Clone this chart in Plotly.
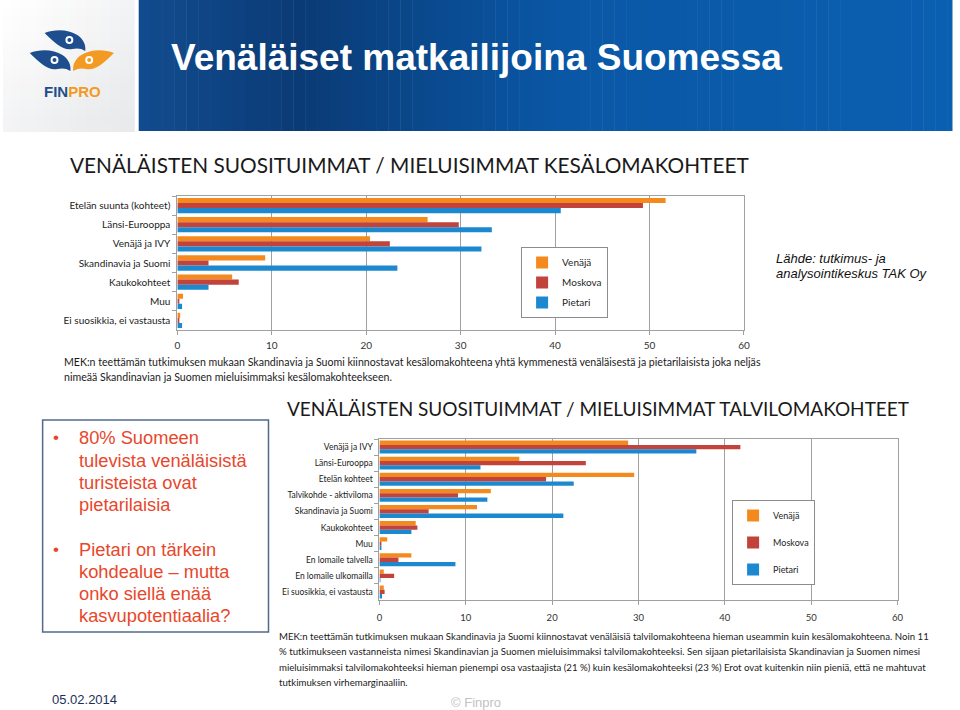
import plotly.graph_objects as go

W, H = 960, 710


def fx(x):
    return x / W


def fy(y):
    return 1 - y / H


# ---------------- data ----------------
SERIES = ["Venäjä", "Moskova", "Pietari"]
COLORS = ["#f48a1e", "#c1433b", "#1b88d0"]

summer_cats = ["Etelän suunta (kohteet)", "Länsi-Eurooppa", "Venäjä ja IVY",
               "Skandinavia ja Suomi", "Kaukokohteet", "Muu",
               "Ei suosikkia, ei vastausta"]
summer_venaja = [51.7, 26.5, 20.4, 9.3, 5.8, 0.6, 0.3]
summer_moskova = [49.3, 29.8, 22.5, 3.3, 6.5, 0.2, 0.2]
summer_pietari = [40.6, 33.3, 32.2, 23.3, 3.3, 0.5, 0.5]

winter_cats = ["Venäjä ja IVY", "Länsi-Eurooppa", "Etelän kohteet",
               "Talvikohde - aktiviloma", "Skandinavia ja Suomi", "Kaukokohteet",
               "Muu", "En lomaile talvella", "En lomaile ulkomailla",
               "Ei suosikkia, ei vastausta"]
winter_venaja = [28.8, 16.2, 29.5, 12.9, 11.3, 4.2, 0.9, 3.7, 0.5, 0.5]
winter_moskova = [41.8, 23.9, 19.3, 9.1, 5.7, 4.4, 0.15, 2.2, 1.7, 0.6]
winter_pietari = [36.7, 11.7, 22.5, 12.5, 21.3, 3.7, 0.2, 8.8, 0.1, 0.3]

x_ticks = [0, 10, 20, 30, 40, 50, 60]

CHART_FONT = "Lato"
SLIDE_FONT = "Liberation Sans"

fig = go.Figure()

for name, col, vals in zip(SERIES, COLORS, [summer_venaja, summer_moskova, summer_pietari]):
    fig.add_trace(go.Bar(y=summer_cats, x=vals, orientation="h", name=name,
                         marker=dict(color=col, line=dict(width=0)),
                         xaxis="x", yaxis="y", legend="legend",
                         legendgroup="s" + name, hoverinfo="skip"))

for name, col, vals in zip(SERIES, COLORS, [winter_venaja, winter_moskova, winter_pietari]):
    fig.add_trace(go.Bar(y=winter_cats, x=vals, orientation="h", name=name,
                         marker=dict(color=col, line=dict(width=0)),
                         xaxis="x2", yaxis="y2", legend="legend2",
                         legendgroup="w" + name, hoverinfo="skip"))

GRID = "#a0a0a0"


def xaxis_style(domain, anchor, fsize, standoff):
    return dict(domain=domain, anchor=anchor, range=[0, 60], tickvals=x_ticks,
                showgrid=True, gridcolor=GRID, gridwidth=1, zeroline=False,
                showline=True, linecolor=GRID, linewidth=1, mirror=True,
                ticks="outside", ticklen=4, tickcolor=GRID,
                tickfont=dict(family=CHART_FONT, size=fsize, color="#333333"),
                ticklabelstandoff=standoff, fixedrange=True)


def yaxis_style(domain, anchor, fsize, standoff):
    return dict(domain=domain, anchor=anchor, type="category", autorange="reversed",
                showgrid=False, showline=True, linecolor=GRID, linewidth=1, mirror=True,
                ticks="outside", tickson="boundaries", ticklen=4, tickcolor=GRID,
                tickfont=dict(family=CHART_FONT, size=fsize, color="#1a1a1a"),
                ticklabelstandoff=standoff, fixedrange=True)


shapes = []
annotations = []

# ---- logo box gradient ----
shapes.append(dict(type="rect", xref="paper", yref="paper", x0=fx(0), x1=fx(133),
                   y0=fy(132), y1=fy(0), fillcolor="#ffffff", line=dict(width=0), layer="below"))
N = 16
for i in range(N):
    shapes.append(dict(type="rect", xref="paper", yref="paper",
                       x0=fx(133 * i / N), x1=fx(133 * (i + 1) / N), y0=fy(132), y1=fy(0),
                       fillcolor="#8a9099", opacity=0.11 * i / N, line=dict(width=0), layer="below"))
    shapes.append(dict(type="rect", xref="paper", yref="paper",
                       x0=fx(0), x1=fx(133), y0=fy(132 * (i + 1) / N), y1=fy(132 * i / N),
                       fillcolor="#8a9099", opacity=0.11 * i / N, line=dict(width=0), layer="below"))


def bird_path(tx, ty, mirror=False):
    pts = [("M", [(0, 3)]),
           ("C", [(10, -1), (24, -1), (33, 5)]),
           ("C", [(39, 9), (42, 15), (41, 21)]),
           ("C", [(37, 18), (32, 18), (28, 19)]),
           ("C", [(19, 21), (10, 13), (0, 3)])]
    s = ""
    for cmd, plist in pts:
        s += cmd
        coords = []
        for (rx, ry) in plist:
            X = tx - rx if mirror else tx + rx
            Y = ty + ry
            coords.append(f"{fx(X):.5f},{fy(Y):.5f}")
        s += " ".join(coords) + " "
    return s + "Z"


NAVY = "#1f4e8f"
ORANGE = "#f39a22"
for (tx, ty, mir, col) in [(42, 30, False, NAVY), (27, 50, False, NAVY), (112, 50, True, ORANGE)]:
    shapes.append(dict(type="path", xref="paper", yref="paper", path=bird_path(tx, ty, mir),
                       fillcolor=col, line=dict(width=0)))
    ex = tx - 25 if mir else tx + 25
    ey = ty + 10
    shapes.append(dict(type="circle", xref="paper", yref="paper",
                       x0=fx(ex - 4), x1=fx(ex + 4), y0=fy(ey + 4), y1=fy(ey - 4),
                       fillcolor="#ffffff", line=dict(width=0)))
    shapes.append(dict(type="circle", xref="paper", yref="paper",
                       x0=fx(ex - 2), x1=fx(ex + 2), y0=fy(ey + 2), y1=fy(ey - 2),
                       fillcolor=col, line=dict(width=0)))

annotations.append(dict(xref="paper", yref="paper", x=fx(70), y=fy(91), xanchor="center",
                        yanchor="middle", showarrow=False,
                        text=f"<b><span style='color:{NAVY}'>FIN</span><span style='color:{ORANGE}'>PRO</span></b>",
                        font=dict(family=SLIDE_FONT, size=15)))

# ---- title bar gradient ----
stops = [(137, (0x12, 0x4c, 0x8e)), (300, (0x0a, 0x3b, 0x76)), (560, (0x0a, 0x57, 0xa5)),
         (958, (0x0b, 0x5f, 0xb0))]


def bar_color(x):
    for (xa, ca), (xb, cb) in zip(stops[:-1], stops[1:]):
        if xa <= x <= xb:
            t = (x - xa) / (xb - xa)
            c = [round(a + (b - a) * t) for a, b in zip(ca, cb)]
            return "#%02x%02x%02x" % tuple(c)
    return "#%02x%02x%02x" % stops[-1][1]


step = 12
x = 137
while x < 958:
    x2 = min(x + step, 958)
    shapes.append(dict(type="rect", xref="paper", yref="paper", x0=fx(x), x1=fx(x2) + 0.0005,
                       y0=fy(131), y1=fy(0), fillcolor=bar_color((x + x2) / 2),
                       line=dict(width=0), layer="below"))
    x = x2

annotations.append(dict(xref="paper", yref="paper", x=fx(168), y=fy(57), xanchor="left",
                        yanchor="middle", showarrow=False,
                        text="<b>Venäläiset matkailijoina Suomessa</b>",
                        font=dict(family=SLIDE_FONT, size=37, color="#ffffff")))

# ---- chart titles ----
annotations.append(dict(xref="paper", yref="paper", x=fx(66), y=fy(164), xanchor="left",
                        yanchor="middle", showarrow=False,
                        text="VENÄLÄISTEN SUOSITUIMMAT / MIELUISIMMAT KESÄLOMAKOHTEET",
                        font=dict(family=CHART_FONT, size=20.8, color="#1a1a1a")))
annotations.append(dict(xref="paper", yref="paper", x=fx(285), y=fy(408), xanchor="left",
                        yanchor="middle", showarrow=False,
                        text="VENÄLÄISTEN SUOSITUIMMAT / MIELUISIMMAT TALVILOMAKOHTEET",
                        font=dict(family=CHART_FONT, size=19, color="#1a1a1a")))

# ---- chart notes ----
top_note = ["MEK:n teettämän tutkimuksen mukaan Skandinavia ja Suomi kiinnostavat kesälomakohteena yhtä kymmenestä venäläisestä ja pietarilaisista joka neljäs",
            "nimeää Skandinavian ja Suomen mieluisimmaksi kesälomakohteekseen."]
for i, line in enumerate(top_note):
    annotations.append(dict(xref="paper", yref="paper", x=fx(60), y=fy(362 + 15 * i),
                            xanchor="left", yanchor="middle", showarrow=False, text=line,
                            font=dict(family=CHART_FONT, size=10.6, color="#1a1a1a")))

bot_note = ["MEK:n teettämän tutkimuksen mukaan Skandinavia ja Suomi kiinnostavat venäläisiä talvilomakohteena hieman useammin kuin kesälomakohteena. Noin 11",
            "% tutkimukseen vastanneista nimesi Skandinavian ja Suomen mieluisimmaksi talvilomakohteeksi. Sen sijaan pietarilaisista Skandinavian ja Suomen nimesi",
            "mieluisimmaksi talvilomakohteeksi hieman pienempi osa vastaajista (21 %) kuin kesälomakohteeksi (23 %) Erot ovat kuitenkin niin pieniä, että ne mahtuvat",
            "tutkimuksen virhemarginaaliin."]
for i, line in enumerate(bot_note):
    annotations.append(dict(xref="paper", yref="paper", x=fx(277), y=fy(636 + 15.4 * i),
                            xanchor="left", yanchor="middle", showarrow=False, text=line,
                            font=dict(family=CHART_FONT, size=9.65, color="#1a1a1a")))

# ---- bullet text box ----
shapes.append(dict(type="rect", xref="paper", yref="paper", x0=fx(40), x1=fx(268),
                   y0=fy(632), y1=fy(420), line=dict(color="#52698c", width=1.5),
                   fillcolor="rgba(0,0,0,0)"))
RED = "#e8472b"
bullets = [["80% Suomeen", "tulevista venäläisistä", "turisteista ovat", "pietarilaisia"],
           ["Pietari on tärkein", "kohdealue – mutta", "onko siellä enää", "kasvupotentiaalia?"]]
for b, (lines, y0) in enumerate(zip(bullets, [438, 549])):
    annotations.append(dict(xref="paper", yref="paper", x=fx(48), y=fy(y0), xanchor="left",
                            yanchor="middle", showarrow=False, text="•",
                            font=dict(family=SLIDE_FONT, size=17, color=RED)))
    for i, line in enumerate(lines):
        annotations.append(dict(xref="paper", yref="paper", x=fx(75), y=fy(y0 + 22 * i),
                                xanchor="left", yanchor="middle", showarrow=False, text=line,
                                font=dict(family=SLIDE_FONT, size=18.3, color=RED)))

# ---- source ----
for i, line in enumerate(["Lähde: tutkimus- ja", "analysointikeskus TAK Oy"]):
    annotations.append(dict(xref="paper", yref="paper", x=fx(778), y=fy(258 + 16 * i),
                            xanchor="left", yanchor="middle", showarrow=False,
                            text=f"<i>{line}</i>",
                            font=dict(family=SLIDE_FONT, size=13, color="#111111")))

# ---- footer ----
annotations.append(dict(xref="paper", yref="paper", x=fx(47), y=fy(699), xanchor="left",
                        yanchor="middle", showarrow=False, text="05.02.2014",
                        font=dict(family=SLIDE_FONT, size=13, color="#1c3158")))
annotations.append(dict(xref="paper", yref="paper", x=fx(450), y=fy(702), xanchor="left",
                        yanchor="middle", showarrow=False, text="© Finpro",
                        font=dict(family=SLIDE_FONT, size=13, color="#c2c2c2")))

fig.update_layout(
    width=W, height=H, margin=dict(l=0, r=0, t=0, b=0),
    paper_bgcolor="#ffffff", plot_bgcolor="#ffffff",
    barmode="group", bargap=0.2, bargroupgap=0,
    xaxis=xaxis_style([fx(176), fx(748)], "y", 10, 2),
    yaxis=yaxis_style([fy(330), fy(196)], "x", 10, 4),
    xaxis2=xaxis_style([fx(380), fx(903)], "y2", 9.5, 5),
    yaxis2=yaxis_style([fy(600), fy(439)], "x2", 8.5, 4),
    legend=dict(x=fx(523), y=fy(247), xanchor="left", yanchor="top", bgcolor="#ffffff",
                bordercolor="#8c8c8c", borderwidth=1, tracegroupgap=1, itemwidth=30,
                font=dict(family=CHART_FONT, size=10, color="#1e1e1e")),
    legend2=dict(x=fx(736), y=fy(500), xanchor="left", yanchor="top", bgcolor="#ffffff",
                 bordercolor="#8c8c8c", borderwidth=1, tracegroupgap=8, itemwidth=30,
                 font=dict(family=CHART_FONT, size=9, color="#1e1e1e")),
    shapes=shapes, annotations=annotations, showlegend=True,
)

fig.write_html("out.html", config={"displayModeBar": False},
               post_script="document.body.style.margin='0';document.body.style.padding='0';"
                           "document.body.style.overflow='hidden';")
